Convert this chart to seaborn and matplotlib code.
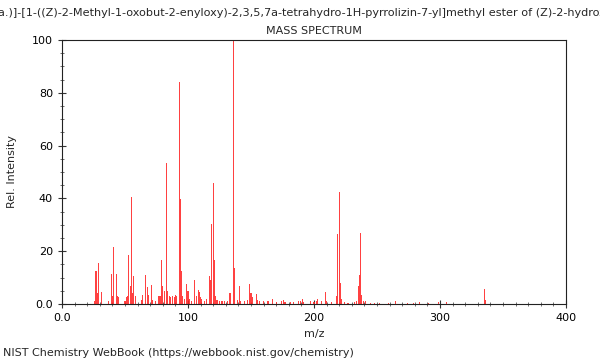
import numpy as np
import pandas as pd
import seaborn as sns
import matplotlib.pyplot as plt
from matplotlib.ticker import MultipleLocator

# peak list (m/z, relative intensity)
mz = [26, 27, 28, 29, 31, 37, 39, 40, 41, 43, 44, 45, 50, 51, 52, 53, 54, 55,
      56, 57, 58, 63, 64, 66, 68, 69, 71, 72, 74, 77, 78, 79, 80, 81, 83, 84,
      85, 86, 88, 89, 90, 91, 93, 94, 95, 96, 97, 99, 100, 101, 103, 105, 107,
      108, 109, 110, 111, 113, 115, 117, 118, 119, 120, 121, 122, 123, 125,
      127, 129, 131, 133, 134, 136, 137, 139, 141, 142, 145, 147, 149, 150,
      151, 154, 155, 157, 160, 163, 164, 167, 170, 174, 176, 177, 181, 184,
      188, 189, 191, 192, 197, 200, 202, 203, 206, 209, 210, 214, 218, 219,
      220, 221, 222, 224, 227, 232, 234, 235, 236, 237, 238, 239, 241, 245,
      248, 252, 259, 265, 274, 279, 284, 291, 299, 305, 335, 336]
intensity = [1.0, 12.6, 4.0, 15.4, 4.4, 1.0, 11.2, 3.0, 21.7, 11.5, 3.0, 2.5,
             1.0, 2.5, 3.0, 18.4, 7.0, 40.7, 4.0, 10.6, 3.0, 1.5, 3.4, 11.0,
             6.3, 3.4, 7.2, 1.5, 1.0, 3.0, 3.0, 16.7, 7.0, 5.0, 53.5, 5.0,
             3.0, 2.5, 3.0, 2.5, 3.4, 3.0, 84.0, 39.8, 12.6, 3.0, 2.0, 7.4,
             5.0, 2.0, 1.0, 9.0, 3.0, 5.3, 4.5, 2.5, 2.0, 1.0, 2.0, 10.6, 9.0,
             30.3, 46.0, 16.7, 3.0, 1.5, 1.0, 1.0, 1.0, 1.0, 4.0, 4.0, 100.0,
             13.6, 1.5, 7.0, 1.0, 1.0, 1.5, 7.4, 4.0, 2.5, 3.8, 1.5, 1.0, 1.0,
             1.0, 1.0, 1.8, 0.6, 1.0, 1.5, 0.8, 0.6, 0.6, 1.0, 1.0, 1.8, 0.8,
             1.0, 0.6, 1.0, 2.0, 1.0, 4.5, 1.0, 0.6, 3.0, 26.5, 42.6, 7.8, 2.0,
             0.8, 0.5, 0.6, 1.0, 7.0, 11.0, 27.0, 3.4, 1.0, 1.0, 0.5, 0.5, 0.5,
             0.5, 1.2, 0.5, 0.5, 0.8, 0.5, 0.6, 0.8, 5.5, 1.5]

x_ticks = [0, 100, 200, 300, 400]
x_labels = ['0.0', '100', '200', '300', '400']
y_ticks = [0, 20, 40, 60, 80, 100]
y_labels = ['0.0', '20', '40', '60', '80', '100']

compound = ('a.)]-[1-((Z)-2-Methyl-1-oxobut-2-enyloxy)-2,3,5,7a-tetrahydro-'
            '1H-pyrrolizin-7-yl]methyl ester of (Z)-2-hydroxy')

df = pd.DataFrame({'mz': mz, 'intensity': intensity})

sns.set_style('ticks')
plt.rcParams['font.family'] = ['DejaVu Sans']

fig = plt.figure(figsize=(6, 3.6), dpi=100)
ax = fig.add_axes([62 / 600, 1 - 304 / 360, 504 / 600, 264 / 360])

sns.histplot(data=df, x='mz', weights='intensity', discrete=True, shrink=0.85,
             color='#ff2020', alpha=0.85, linewidth=0, ax=ax)

ax.set_xlim(0, 400)
ax.set_ylim(0, 100)
ax.set_xticks(x_ticks)
ax.set_xticklabels(x_labels)
ax.set_yticks(y_ticks)
ax.set_yticklabels(y_labels)
ax.xaxis.set_minor_locator(MultipleLocator(10))
ax.yaxis.set_minor_locator(MultipleLocator(5))
ax.tick_params(which='major', direction='inout', length=6, width=0.8,
               labelsize=8, colors='#333333', labelcolor='black')
ax.tick_params(which='minor', direction='inout', length=3, width=0.6,
               colors='#555555')
for s in ax.spines.values():
    s.set_visible(True)
    s.set_color('#222222')
    s.set_linewidth(0.8)

ax.set_xlabel('m/z', fontsize=8)
ax.set_ylabel('Rel. Intensity', fontsize=8)
ax.yaxis.set_label_coords(-45 / 504, 0.5)
ax.set_title('MASS SPECTRUM', fontsize=8, pad=4)

fig.text(-0.004, 1 - 13 / 360, compound, fontsize=8.1, ha='left', va='center')
fig.text(3 / 600, 1 - 353 / 360, 'NIST Chemistry WebBook (https://webbook.nist.gov/chemistry)',
         fontsize=8, ha='left', va='center')

fig.savefig('out.png', dpi=100)
